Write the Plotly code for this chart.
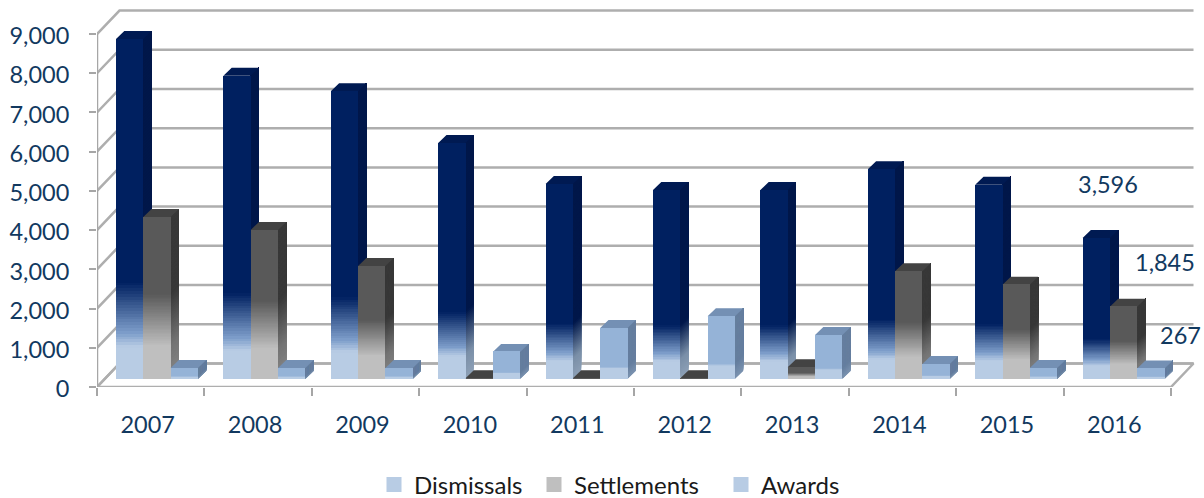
import plotly.graph_objects as go

# ---- data ----
years = ["2007", "2008", "2009", "2010", "2011", "2012", "2013", "2014", "2015", "2016"]
dismissals = [8670, 7730, 7340, 6020, 4970, 4820, 4820, 5350, 4950, 3596]
settlements = [4130, 3800, 2880, 20, 20, 20, 300, 2750, 2400, 1845]
awards = [280, 280, 280, 690, 1300, 1600, 1120, 380, 280, 267]
y_ticks = [0, 1000, 2000, 3000, 4000, 5000, 6000, 7000, 8000, 9000]

# ---- style / geometry ----
PX_X = 107.4            # pixels per category
PX_Y = 39.22 / 1000     # pixels per unit
WALL_DX, WALL_DY = 22.5 / PX_X, 23.5 / PX_Y
BAR_DX, BAR_DY = 8.3 / PX_X, 8.0 / PX_Y
BAR_W = 27.3 / PX_X
BAR_START = 19.0 / PX_X
BASE = 8.0 / PX_Y
N = 120
TEXT = "#12395f"
GRID = "#aeaeae"
FONT = "Lato"
FS = 23.5

series = [
    dict(name="Dismissals", v=dismissals, legend="#b8cce4", lx=374,
         front=[(0, "#b8cce4"), (.09, "#b8cce4"), (.13, "#7f9fcb"), (.28, "#002060"), (1, "#002060")],
         side=[(0, "#8c9fb5"), (.1, "#7a8fa8"), (.28, "#00174a"), (1, "#00174a")],
         top="#001a52"),
    dict(name="Settlements", v=settlements, legend="#bfbfbf", lx=534,
         front=[(0, "#bfbfbf"), (.2, "#bfbfbf"), (.52, "#595959"), (1, "#595959")],
         side=[(0, "#858585"), (.2, "#747474"), (.52, "#383838"), (1, "#383838")],
         top="#434343"),
    dict(name="Awards", v=awards, legend="#b8cce4", lx=721,
         front=[(0, "#b8cce4"), (.2, "#b8cce4"), (.24, "#95b3d7"), (1, "#95b3d7")],
         side=[(0, "#7c93b0"), (.24, "#667f9f"), (1, "#667f9f")],
         top="#7490b4"),
]


def hex2rgb(h):
    return tuple(int(h[i:i + 2], 16) for i in (1, 3, 5))


def colour_at(stops, f):
    for (f0, c0), (f1, c1) in zip(stops, stops[1:]):
        if f <= f1:
            t = (f - f0) / (f1 - f0)
            a, b = hex2rgb(c0), hex2rgb(c1)
            return "rgb(%d,%d,%d)" % tuple(round(p + (q - p) * t) for p, q in zip(a, b))
    return stops[-1][1]


fig = go.Figure()


def line(xs, ys, color=GRID, width=2.5):
    fig.add_trace(go.Scatter(x=xs, y=ys, mode="lines", line=dict(color=color, width=width),
                             hoverinfo="skip", showlegend=False, cliponaxis=False, zorder=0))


n = len(years)
# walls and floor
for t in y_ticks:
    line([0, WALL_DX, n + WALL_DX], [t, t + WALL_DY, t + WALL_DY])
line([0, WALL_DX, n + WALL_DX, n, 0], [0, WALL_DY, WALL_DY, 0, 0])
line([0, 0], [0, y_ticks[-1]], color="#a6a6a6")

legends = {}
for s_i, s in enumerate(series):
    z_back = 1 + s_i * 2
    z_front = z_back + 1
    lefts = [i + BAR_START + s_i * BAR_W for i in range(n)]
    rights = [x + BAR_W for x in lefts]
    for k in range(N):
        f = k / N
        # side faces, painted from the floor upward
        px, py = [], []
        for r, v in zip(rights, s["v"]):
            low = BASE + v * f
            high = BASE + v
            px += [r, r + BAR_DX, r + BAR_DX, r, r, None]
            py += [low, low + BAR_DY, high + BAR_DY, high, low, None]
        fig.add_trace(go.Scatter(x=px, y=py, mode="none", fill="toself",
                                 fillcolor=colour_at(s["side"], f), hoverinfo="skip",
                                 showlegend=False, zorder=z_back))
        # front faces
        fig.add_trace(go.Bar(x=lefts, y=[v * (1 - f) for v in s["v"]],
                             base=[BASE + v * f for v in s["v"]],
                             width=BAR_W, offset=0,
                             marker=dict(color=colour_at(s["front"], f), line=dict(width=0)),
                             hoverinfo="skip", showlegend=False, zorder=z_front))
    # top faces
    px, py = [], []
    for l, r, v in zip(lefts, rights, s["v"]):
        h = BASE + v
        px += [l, l + BAR_DX, r + BAR_DX, r, l, None]
        py += [h, h + BAR_DY, h + BAR_DY, h, h, None]
    fig.add_trace(go.Scatter(x=px, y=py, mode="none", fill="toself", fillcolor=s["top"],
                             hoverinfo="skip", showlegend=False, zorder=z_back))
    # legend entry, each in its own legend box so the spacing can follow the reference
    key = "legend" if s_i == 0 else f"legend{s_i + 1}"
    fig.add_trace(go.Scatter(x=[None], y=[None], mode="markers", name=s["name"], legend=key,
                             marker=dict(symbol="square", size=15, color=s["legend"]),
                             hoverinfo="skip", showlegend=True))
    legends[key] = dict(orientation="h", x=s["lx"] / 1204, xref="container", xanchor="left",
                        y=1 - 485 / 498, yref="container", yanchor="middle",
                        font=dict(family=FONT, size=24, color="#1a1a1a"),
                        bgcolor="rgba(0,0,0,0)", itemclick=False, itemdoubleclick=False)

# data labels of the last year
label_pos = [(9.41, 5180), (9.945, 3185), (10.09, 1325)]
for s, (lx, ly) in zip(series, label_pos):
    fig.add_annotation(x=lx, y=ly, text=f"{s['v'][-1]:,}", showarrow=False,
                       font=dict(family=FONT, size=FS, color=TEXT),
                       xanchor="center", yanchor="middle")

fig.update_layout(
    width=1204, height=498, autosize=False,
    margin=dict(l=97, r=0, t=0, b=111),
    paper_bgcolor="white", plot_bgcolor="white",
    barmode="overlay", bargap=0,
    font=dict(family=FONT, color=TEXT, size=FS),
    xaxis=dict(range=[0, 1107 / PX_X], showgrid=False, zeroline=False, showline=False,
               tickmode="array", tickvals=[i + 0.5 for i in range(n)], ticktext=years,
               ticks="", ticklabelstandoff=21, ticklabelshift=-3,
               minor=dict(tickmode="array", tickvals=list(range(n + 1)), ticks="outside",
                          ticklen=8, tickwidth=2, tickcolor="#a6a6a6", showgrid=False),
               tickfont=dict(family=FONT, size=FS, color=TEXT), fixedrange=True),
    yaxis=dict(range=[0, 387 / PX_Y], showgrid=False, zeroline=False, showline=False,
               tickmode="array", tickvals=y_ticks, ticktext=[f"{t:,}" for t in y_ticks],
               ticks="outside", ticklen=7, tickwidth=2, tickcolor="#a6a6a6",
               ticklabelstandoff=15, ticklabelshift=2,
               tickfont=dict(family=FONT, size=FS, color=TEXT), fixedrange=True),
)
fig.update_layout(**legends)

fig.write_html("out.html", post_script="document.body.style.margin='0';",
               config={"displayModeBar": False})
